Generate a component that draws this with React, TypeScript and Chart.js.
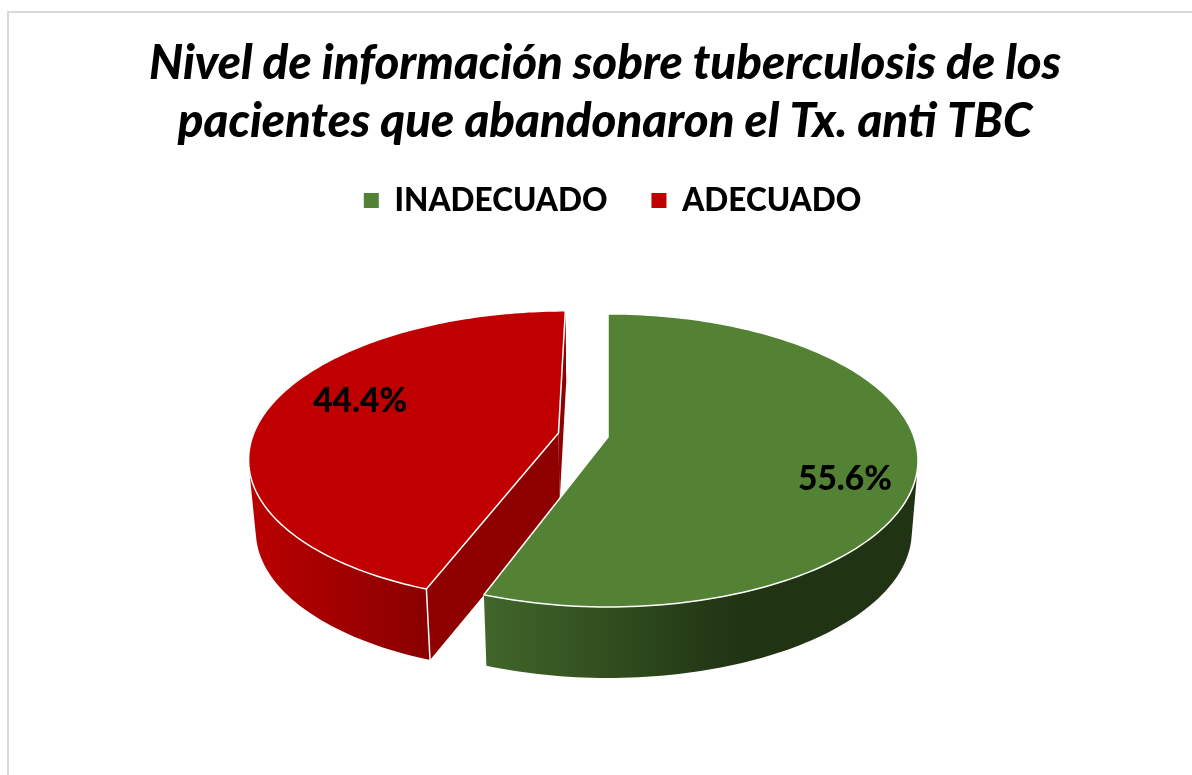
import React, { useEffect, useRef } from "react";
import { Chart, registerables } from "chart.js";

Chart.register(...registerables);

const TITLE_LINES = [
  "Nivel de información sobre tuberculosis de los",
  "pacientes que abandonaron el Tx. anti TBC",
];
const CATEGORIES = ["INADECUADO", "ADECUADO"];
const VALUES = [55.6, 44.4];
const VALUE_LABELS = ["55.6%", "44.4%"];
const COLORS = ["#548235", "#C00000"];

// Projection of the pie plane
const CX = 608;
const CY = 437;
const AX = 306;
const BY = 142.8;
const PERSP = 0.16;
const DEPTH = 71;
const DEPTH_SCALE = 0.98;
const EXPLODE = [0, 0.165];
const LABEL_UV = [
  [0.739, 0.285],
  [-0.844, -0.262],
];

type P = [number, number];
const project = (u: number, v: number): P => {
  const w = 1 - PERSP * v;
  return [CX + (AX * u) / w, CY + (BY * v) / w];
};
const lower = ([x, y]: P): P => [CX + (x - CX) * DEPTH_SCALE, y + DEPTH];

const pie3d = {
  id: "pie3d",
  afterLayout(chart: any) {
    chart.legend.left += 15;
  },
  beforeDatasetsDraw(chart: any) {
    const ctx: CanvasRenderingContext2D = chart.ctx;
    const arcs = chart.getDatasetMeta(0).data;
    const wedges = arcs.map((arc: any, i: number) => {
      const { startAngle, endAngle } = arc.getProps(["startAngle", "endAngle"], true);
      const mid = (startAngle + endAngle) / 2;
      const ou = Math.cos(mid) * EXPLODE[i];
      const ov = Math.sin(mid) * EXPLODE[i];
      const rim: P[] = [];
      const n = 160;
      for (let k = 0; k <= n; k++) {
        const a = startAngle + ((endAngle - startAngle) * k) / n;
        rim.push(project(ou + Math.cos(a), ov + Math.sin(a)));
      }
      return { apex: project(ou, ov), rim };
    });

    const trace = (pts: P[]) => {
      pts.forEach(([x, y], j) => (j ? ctx.lineTo(x, y) : ctx.moveTo(x, y)));
      ctx.closePath();
    };
    const poly = (pts: P[]) => {
      ctx.beginPath();
      trace(pts);
    };
    const area = (pts: P[]) =>
      pts.reduce((s, p, j) => {
        const q = pts[(j + 1) % pts.length];
        return s + p[0] * q[1] - q[0] * p[1];
      }, 0);

    ctx.save();
    ctx.lineJoin = "round";

    // outer walls: a union of swept quads, filled as one path
    const gGreen = ctx.createLinearGradient(483, 0, 740, 0);
    gGreen.addColorStop(0, "#41662A");
    gGreen.addColorStop(1, "#203413");
    const gRed = ctx.createLinearGradient(250, 0, 430, 0);
    gRed.addColorStop(0, "#BA0000");
    gRed.addColorStop(1, "#880000");
    [gGreen, gRed].forEach((g, i) => {
      const { rim } = wedges[i];
      ctx.beginPath();
      for (let k = 0; k < rim.length - 1; k++) {
        const quad: P[] = [rim[k], rim[k + 1], lower(rim[k + 1]), lower(rim[k])];
        trace(area(quad) < 0 ? quad.reverse() : quad);
      }
      ctx.fillStyle = g;
      ctx.fill("nonzero");
    });

    // radial faces of the exploded slice
    const red = wedges[1];
    const first = red.rim[0];
    const last = red.rim[red.rim.length - 1];
    [first, last].forEach((edge: P) => {
      poly([red.apex, edge, lower(edge), lower(red.apex)]);
      ctx.fillStyle = "#8F0000";
      ctx.fill();
    });

    // white corner edge of the exploded slice
    ctx.beginPath();
    ctx.moveTo(first[0], first[1]);
    const lf = lower(first);
    ctx.lineTo(lf[0], lf[1]);
    ctx.strokeStyle = "#FFFFFF";
    ctx.lineWidth = 1.5;
    ctx.stroke();

    // top faces
    wedges.forEach((w: any, i: number) => {
      poly([w.apex, ...w.rim]);
      ctx.fillStyle = COLORS[i];
      ctx.fill();
      ctx.strokeStyle = "#FFFFFF";
      ctx.lineWidth = 1.5;
      ctx.stroke();
    });

    // value labels
    ctx.fillStyle = "#000000";
    ctx.font = "900 33.5px Lato, 'Open Sans', sans-serif";
    ctx.textAlign = "center";
    ctx.textBaseline = "middle";
    VALUE_LABELS.forEach((t, i) => {
      const [x, y] = project(LABEL_UV[i][0], LABEL_UV[i][1]);
      ctx.fillText(t, x, y);
    });
    ctx.restore();
    return false;
  },
};

export default function App() {
  const ref = useRef<HTMLCanvasElement | null>(null);
  useEffect(() => {
    const chart = new Chart(ref.current as HTMLCanvasElement, {
      type: "pie",
      data: {
        labels: CATEGORIES,
        datasets: [{ data: VALUES, backgroundColor: COLORS, borderWidth: 0 }],
      },
      plugins: [pie3d],
      options: {
        responsive: false,
        animation: false,
        layout: { padding: { top: 0, left: 18, right: 0, bottom: 0 } },
        plugins: {
          tooltip: { enabled: false },
          title: {
            display: true,
            text: TITLE_LINES,
            color: "#000000",
            font: { family: "Lato, 'Open Sans', sans-serif", size: 47.4, weight: 900, style: "italic", lineHeight: 1.22 },
            padding: { top: 35, bottom: -10 },
          },
          legend: {
            position: "top",
            onClick: undefined,
            labels: {
              color: "#000000",
              boxWidth: 15,
              boxHeight: 15,
              padding: 44,
              font: { family: "Lato, 'Open Sans', sans-serif", size: 31.5, weight: 900 },
            },
          },
        },
      } as any,
    });
    return () => chart.destroy();
  }, []);
  return (
    <div style={{ position: "absolute", left: 0, top: 0, width: 1192, height: 775, overflow: "hidden", background: "#fff" }}>
      <div style={{ position: "absolute", left: 7, top: 11, width: 1300, height: 900, border: "2px solid #D9D9D9" }} />
      <canvas ref={ref} width={1192} height={775} style={{ position: "absolute", left: 0, top: 0, display: "block" }} />
    </div>
  );
}
